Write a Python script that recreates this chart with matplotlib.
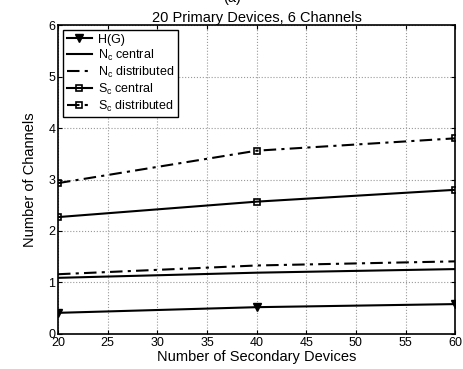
import numpy as np
import matplotlib
matplotlib.use('Agg')
import matplotlib.pyplot as plt

plt.rcParams['font.family'] = ['Liberation Sans', 'DejaVu Sans']
plt.rcParams['mathtext.fontset'] = 'custom'
plt.rcParams['mathtext.rm'] = 'Liberation Sans'
plt.rcParams['mathtext.it'] = 'Liberation Sans'

# data
secondary = [20, 40, 60]
h_g = [0.41, 0.52, 0.58]
n_central = [1.09, 1.19, 1.26]
n_distributed = [1.16, 1.33, 1.41]
s_central = [2.27, 2.57, 2.80]
s_distributed = [2.93, 3.56, 3.80]

dashdot = (0, (6, 2.5, 1.5, 2.5))

fig = plt.figure(figsize=(4.64, 3.69), dpi=100)
ax = fig.add_axes([0.125, 0.095, 0.856, 0.837])

ax.plot(secondary, h_g, 'k-', marker='v', ms=5.5, lw=1.5, label='H(G)')
ax.plot(secondary, n_central, 'k-', lw=1.5, label=r'N$_\mathrm{c}$ central')
ax.plot(secondary, n_distributed, color='k', ls=dashdot, lw=1.5,
        label=r'N$_\mathrm{c}$ distributed')
ax.plot(secondary, s_central, 'k-', marker='s', ms=4, mfc='none', mew=1.2, lw=1.5,
        label=r'S$_\mathrm{c}$ central')
ax.plot(secondary, s_distributed, color='k', ls=dashdot, marker='s', ms=4, mfc='none',
        mew=1.2, lw=1.5, label=r'S$_\mathrm{c}$ distributed')

ax.set_xlim(20, 60)
ax.set_ylim(0, 6)
ax.set_xticks(np.arange(20, 61, 5))
ax.set_yticks(np.arange(0, 7, 1))
ax.grid(True, linestyle=':', color='#999999', lw=0.8)
ax.tick_params(direction='in', labelsize=9, length=3, top=True, right=True, pad=2)
for s in ax.spines.values():
    s.set_linewidth(1.2)

ax.set_xlabel('Number of Secondary Devices', fontsize=10.5, labelpad=1)
ax.set_ylabel('Number of Channels', fontsize=10.5, labelpad=8)
ax.set_title('20 Primary Devices, 6 Channels', fontsize=10.5, pad=2)
fig.text(0.5, 1.005, '(a)', ha='center', va='center', fontsize=10.5)

leg = ax.legend(loc='upper left', fontsize=9, frameon=True, fancybox=False,
                edgecolor='black', framealpha=1, borderaxespad=0.4,
                handlelength=2.0, labelspacing=0.15, borderpad=0.3, handletextpad=0.5)
leg.get_frame().set_linewidth(1.0)

fig.savefig('out.png', dpi=100)
